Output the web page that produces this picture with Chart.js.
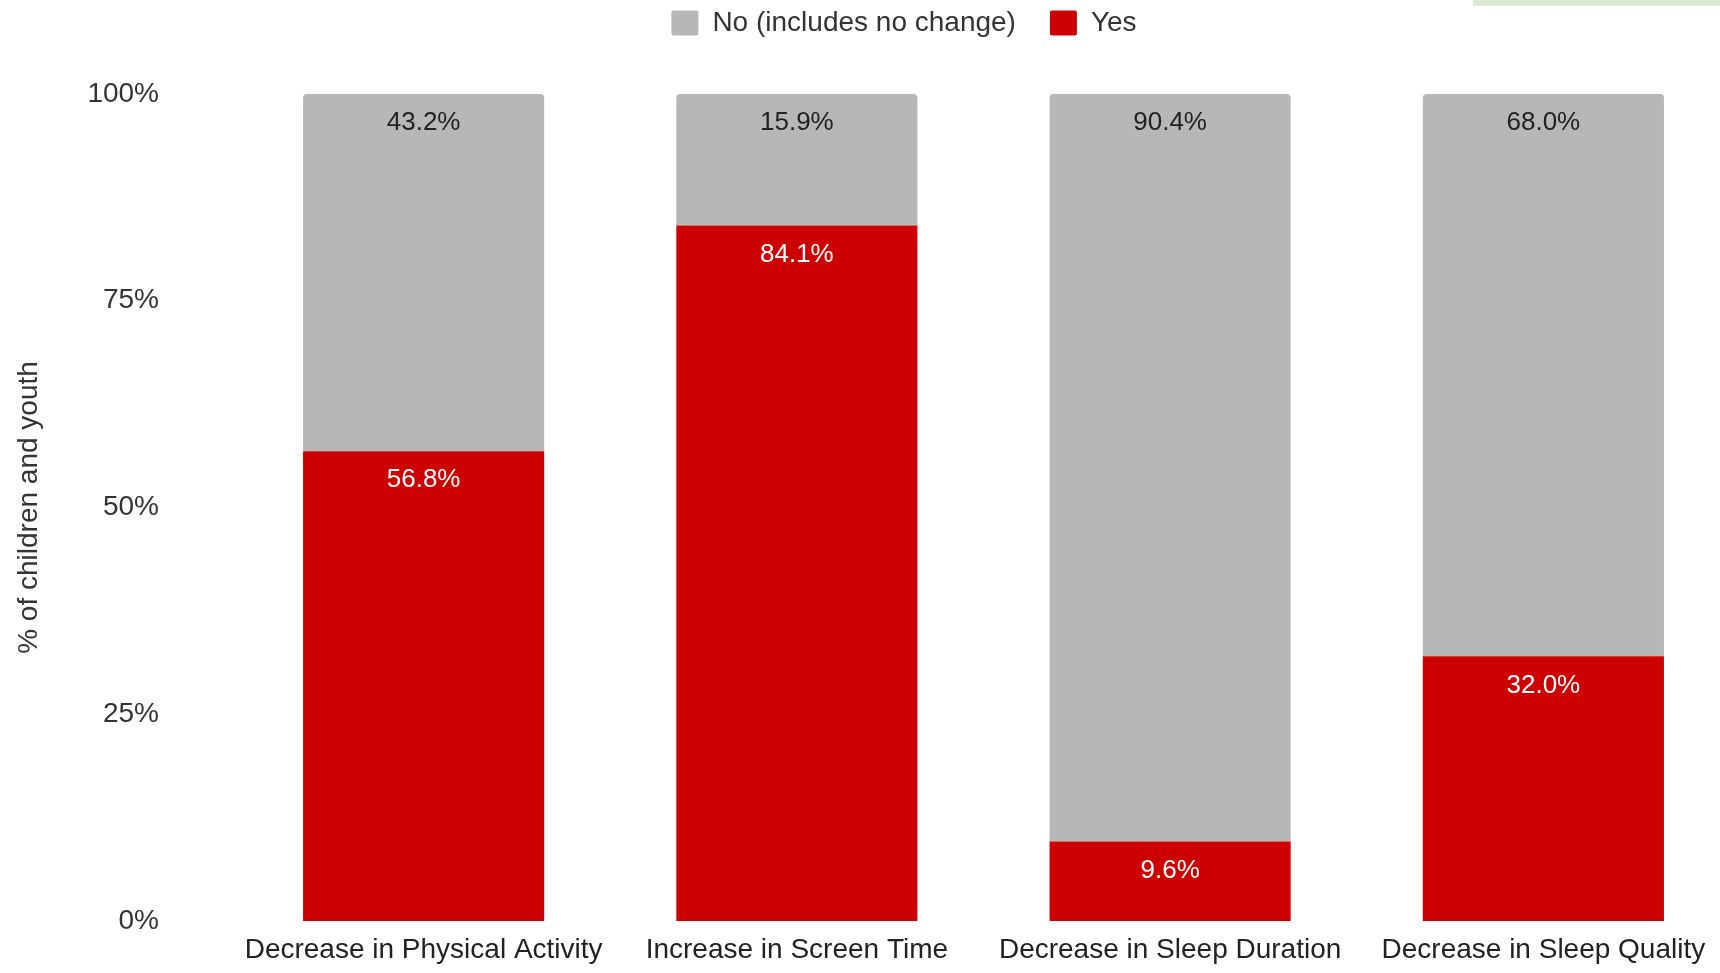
<!DOCTYPE html>
<html>
<head>
<meta charset="utf-8">
<title>Children and youth</title>
<script src="https://cdn.jsdelivr.net/npm/chart.js@4.4.0/dist/chart.umd.min.js"></script>
<style>
  html, body { margin: 0; padding: 0; background: #fff; overflow: hidden; }
  #wrap { position: relative; width: 1808px; height: 973px; }
  #strip { position: absolute; left: 1473px; top: 0; width: 247px; height: 6px; background: #d9ead3; }
</style>
</head>
<body>
<div id="wrap"><canvas id="myChart"></canvas></div>
<div id="strip"></div>
<script>
const categories = [
  "Decrease in Physical Activity",
  "Increase in Screen Time",
  "Decrease in Sleep Duration",
  "Decrease in Sleep Quality",
];
const yesValues = [56.8, 84.1, 9.6, 32.0];
const noValues = [43.2, 15.9, 90.4, 68.0];
const yTicks = [0, 25, 50, 75, 100];

const red = "#cc0000";
const grey = "#b7b7b7";
const fontFamily = '"Liberation Sans", Arial, sans-serif';

Chart.defaults.font.family = fontFamily;
Chart.defaults.color = "#333";

// push the plot down below the legend
const legendSpacer = {
  id: "legendSpacer",
  beforeInit(chart) {
    const fitLegend = chart.legend.fit;
    chart.legend.fit = function () {
      fitLegend.bind(chart.legend)();
      this.height += 47;
    };
  },
};

// value text near the top of each segment
const barLabels = {
  id: "barLabels",
  afterDatasetsDraw(chart) {
    const ctx = chart.ctx;
    const labelColors = ["#ffffff", "#222222"];
    ctx.save();
    ctx.font = "26px " + fontFamily;
    ctx.textAlign = "center";
    ctx.textBaseline = "middle";
    chart.data.datasets.forEach((ds, i) => {
      chart.getDatasetMeta(i).data.forEach((bar, j) => {
        const top = Math.min(bar.y, bar.base);
        ctx.fillStyle = labelColors[i];
        ctx.fillText(ds.data[j].toFixed(1) + "%", bar.x, top + 29);
      });
    });
    ctx.restore();
  },
};

const makeGraph = () => {
  const chart_ctx = document.getElementById("myChart");
  const data = {
    labels: categories,
    datasets: [
      {
        label: "Yes",
        backgroundColor: red,
        borderWidth: 0,
        data: yesValues,
      },
      {
        label: "No (includes no change)",
        backgroundColor: grey,
        borderWidth: 0,
        borderRadius: { topLeft: 4, topRight: 4 },
        data: noValues,
      },
    ],
  };
  const config = {
    type: "bar",
    data,
    plugins: [legendSpacer, barLabels],
    options: {
      responsive: true,
      maintainAspectRatio: false,
      animation: false,
      layout: { padding: { top: -25 } },
      datasets: {
        bar: { categoryPercentage: 1, barPercentage: 0.646 },
      },
      plugins: {
        tooltip: { enabled: false },
        legend: {
          position: "top",
          reverse: true,
          labels: {
            boxWidth: 27,
            boxHeight: 25,
            padding: 34,
            useBorderRadius: true,
            borderRadius: 2,
            color: "#333",
            font: { size: 28 },
          },
        },
      },
      scales: {
        x: {
          stacked: true,
          grid: { display: false, drawTicks: false },
          border: { display: false },
          ticks: { padding: 12, color: "#222", font: { size: 28 }, maxRotation: 0 },
          afterFit: (axis) => { axis.height = 52; },
        },
        y: {
          stacked: true,
          min: 0,
          max: 100,
          grid: { display: false, drawTicks: false },
          border: { display: false },
          afterBuildTicks: (axis) => { axis.ticks = yTicks.map((v) => ({ value: v })); },
          ticks: {
            padding: 78,
            color: "#333",
            font: { size: 28 },
            callback: (v) => v + "%",
          },
          title: {
            display: true,
            text: "% of children and youth",
            color: "#333",
            font: { size: 28 },
            padding: { top: 12, bottom: 0 },
          },
          afterFit: (axis) => {
            axis.width = 237;
            // tick padding is horizontal here, don't let it eat vertical room
            axis.paddingTop = 18;
            axis.paddingBottom = 18;
          },
        },
        spare: {
          position: "right",
          grid: { display: false, drawTicks: false },
          border: { display: false },
          ticks: { display: false },
          afterFit: (axis) => { axis.width = 78; },
        },
      },
    },
  };
  return new Chart(chart_ctx, config);
};

makeGraph();
</script>
</body>
</html>
